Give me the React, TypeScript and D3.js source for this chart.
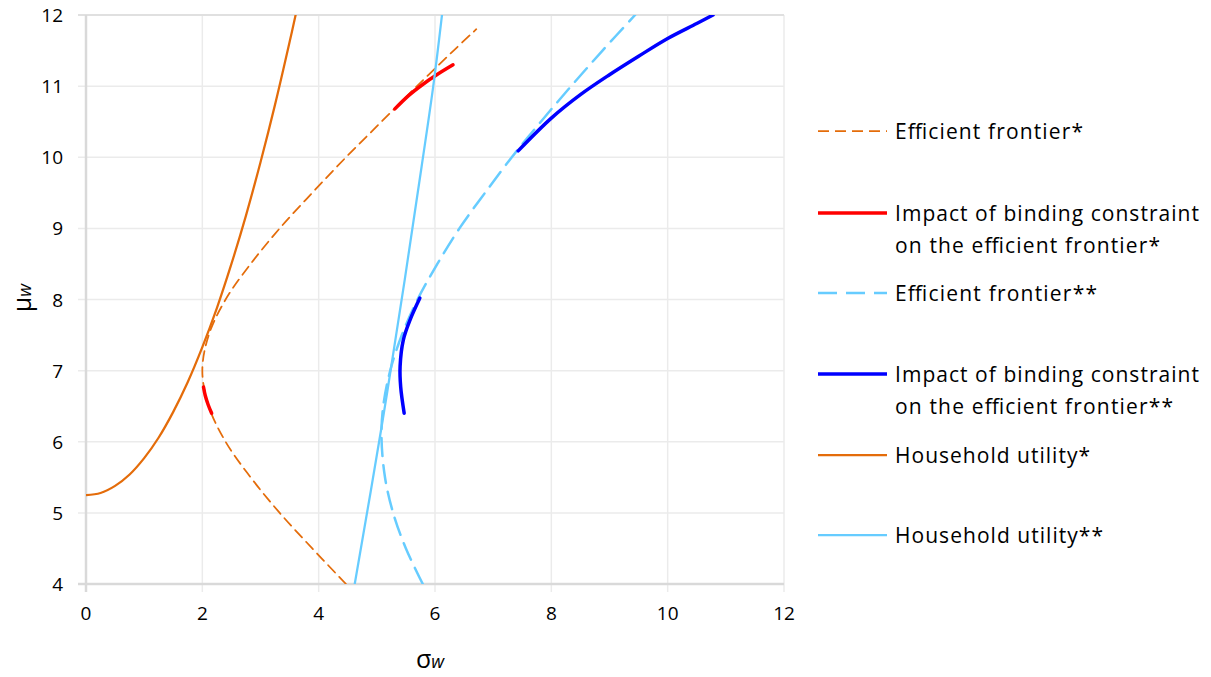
import React, { useEffect } from "react";
import * as d3 from "d3";

type P = [number, number];

// sigma_w, mu_w pairs
const efficientFrontier1: P[] = [
  [4.47, 4], [3.89, 4.5], [3.33, 5], [2.83, 5.5], [2.4, 6], [2.11, 6.5], [2.0, 7],
  [2.11, 7.5], [2.4, 8], [2.83, 8.5], [3.33, 9], [3.89, 9.5], [4.47, 10],
  [5.08, 10.5], [5.69, 11], [6.32, 11.5], [6.71, 11.8],
];
const impact1Lower: P[] = [[2.02, 6.77], [2.05, 6.65], [2.1, 6.52], [2.16, 6.4]];
const impact1Upper: P[] = [[5.31, 10.68], [5.55, 10.87], [5.8, 11.03], [6.05, 11.17], [6.31, 11.3]];
const efficientFrontier2: P[] = [
  [5.79, 4], [5.5, 4.5], [5.28, 5], [5.14, 5.5], [5.08, 6.07], [5.11, 6.5], [5.23, 7],
  [5.43, 7.5], [5.7, 8], [6.04, 8.5], [6.42, 9], [6.86, 9.5], [7.32, 10], [7.82, 10.5],
  [8.34, 11], [8.88, 11.5], [9.44, 12],
];
const impact2Lower: P[] = [[5.74, 8.02], [5.57, 7.71], [5.455, 7.43], [5.4, 7.06], [5.41, 6.77], [5.47, 6.4]];
const impact2Upper: P[] = [
  [7.43, 10.09], [8, 10.55], [8.5, 10.88], [9, 11.16], [9.5, 11.42], [10, 11.67], [10.5, 11.88], [10.78, 12.0],
];
const householdUtility1: P[] = [
  [0, 5.25], [0.25, 5.28], [0.5, 5.38], [0.75, 5.54], [1, 5.77], [1.25, 6.06], [1.5, 6.42],
  [1.75, 6.84], [2, 7.33], [2.25, 7.88], [2.5, 8.5], [2.75, 9.18], [3, 9.93], [3.25, 10.74],
  [3.5, 11.62], [3.62, 12.06],
];
const householdUtility2: P[] = [[4.62, 4], [5.08, 6.2], [5.48, 8.28], [5.77, 9.87], [5.97, 11], [6.12, 12]];

const xTicks = [0, 2, 4, 6, 8, 10, 12];
const yTicks = [4, 5, 6, 7, 8, 9, 10, 11, 12];

const ORANGE = "#E46C0A";
const RED = "#FF0000";
const BLUE = "#0000FF";
const LIGHTBLUE = "#66CCFF";

const legendItems = [
  { lines: ["Efficient frontier*"], widths: [188], color: ORANGE, dash: "11,6", w: 1.75, y: 131 },
  { lines: ["Impact of binding constraint", "on the efficient frontier*"], widths: [304, 265], color: RED, dash: null, w: 3.5, y: 213 },
  { lines: ["Efficient frontier**"], widths: [202], color: LIGHTBLUE, dash: "19,9", w: 2.5, y: 293 },
  { lines: ["Impact of binding constraint", "on the efficient frontier**"], widths: [304, 278], color: BLUE, dash: null, w: 3.5, y: 374 },
  { lines: ["Household utility*"], widths: [195], color: ORANGE, dash: null, w: 2.25, y: 455 },
  { lines: ["Household utility**"], widths: [208], color: LIGHTBLUE, dash: null, w: 2.25, y: 535 },
];

export default function App() {
  useEffect(() => {
    document.body.style.margin = "0";
  }, []);

  const x = d3.scaleLinear().domain([0, 12]).range([86, 784]);
  const y = d3.scaleLinear().domain([4, 12]).range([584, 15]);
  const line = d3
    .line<P>()
    .x((d) => x(d[0]))
    .y((d) => y(d[1]))
    .curve(d3.curveCatmullRom.alpha(0.5));

  const font = "'Open Sans', 'Liberation Sans', sans-serif";

  const series = [
    { data: efficientFrontier1, color: ORANGE, w: 1.75, dash: "10,6" },
    { data: impact1Lower, color: RED, w: 3.5, dash: undefined },
    { data: impact1Upper, color: RED, w: 3.5, dash: undefined },
    { data: efficientFrontier2, color: LIGHTBLUE, w: 2.5, dash: "18,9" },
    { data: impact2Lower, color: BLUE, w: 3.5, dash: undefined },
    { data: impact2Upper, color: BLUE, w: 3.5, dash: undefined },
    { data: householdUtility1, color: ORANGE, w: 2.25, dash: undefined },
    { data: householdUtility2, color: LIGHTBLUE, w: 2.25, dash: undefined },
  ];

  return (
    <svg width={1211} height={677} style={{ position: "absolute", left: 0, top: 0, background: "#fff" }} fontFamily={font}>
      <defs>
        <clipPath id="plot">
          <rect x={x(0)} y={y(12)} width={x(12) - x(0)} height={y(4) - y(12)} />
        </clipPath>
      </defs>
      {/* gridlines */}
      {xTicks.slice(1).map((t) => (
        <line key={"gx" + t} x1={x(t)} x2={x(t)} y1={y(12)} y2={y(4) + 8} stroke="#EBEBEB" strokeWidth={1.5} />
      ))}
      {yTicks.slice(1).map((t) => (
        <line key={"gy" + t} x1={x(0) - 8} x2={x(12)} y1={y(t)} y2={y(t)} stroke={t === 12 ? "#E0E0E0" : "#EBEBEB"} strokeWidth={t === 12 ? 2 : 1.5} />
      ))}
      {/* axes */}
      <line x1={x(0)} x2={x(0)} y1={y(12)} y2={y(4) + 8} stroke="#D9D9D9" strokeWidth={2.5} />
      <line x1={x(0) - 8} x2={x(12)} y1={y(4)} y2={y(4)} stroke="#D9D9D9" strokeWidth={2.5} />
      {/* tick labels */}
      {yTicks.map((t) => (
        <text key={"ty" + t} x={63} y={y(t)} textAnchor="end" dominantBaseline="central" fontSize={19} fill="#000">
          {t}
        </text>
      ))}
      {xTicks.map((t) => (
        <text key={"tx" + t} x={x(t)} y={613} textAnchor="middle" dominantBaseline="central" fontSize={19} fill="#000">
          {t}
        </text>
      ))}
      {/* axis titles */}
      <text x={430} y={668} textAnchor="middle" fill="#000">
        <tspan fontSize={25}>σ</tspan>
        <tspan fontSize={18} fontStyle="italic">w</tspan>
      </text>
      <text transform="translate(31,298) rotate(-90)" textAnchor="middle" fill="#000">
        <tspan fontSize={25}>μ</tspan>
        <tspan fontSize={18} fontStyle="italic">w</tspan>
      </text>
      {/* series */}
      <g clipPath="url(#plot)">
        {series.map((s, i) => (
          <path
            key={i}
            d={line(s.data) || ""}
            fill="none"
            stroke={s.color}
            strokeWidth={s.w}
            strokeDasharray={s.dash}
            strokeLinecap="round"
          />
        ))}
      </g>
      {/* legend */}
      {legendItems.map((it, i) => (
        <g key={"lg" + i}>
          <line x1={818} x2={887} y1={it.y} y2={it.y} stroke={it.color} strokeWidth={it.w} strokeDasharray={it.dash || undefined} />
          {it.lines.map((l, j) => (
            <text
              key={j}
              x={895}
              y={it.y + j * 32}
              dominantBaseline="central"
              fontSize={21}
              fill="#000"
              textLength={it.widths[j]}
              lengthAdjust="spacing"
            >
              {l}
            </text>
          ))}
        </g>
      ))}
    </svg>
  );
}
